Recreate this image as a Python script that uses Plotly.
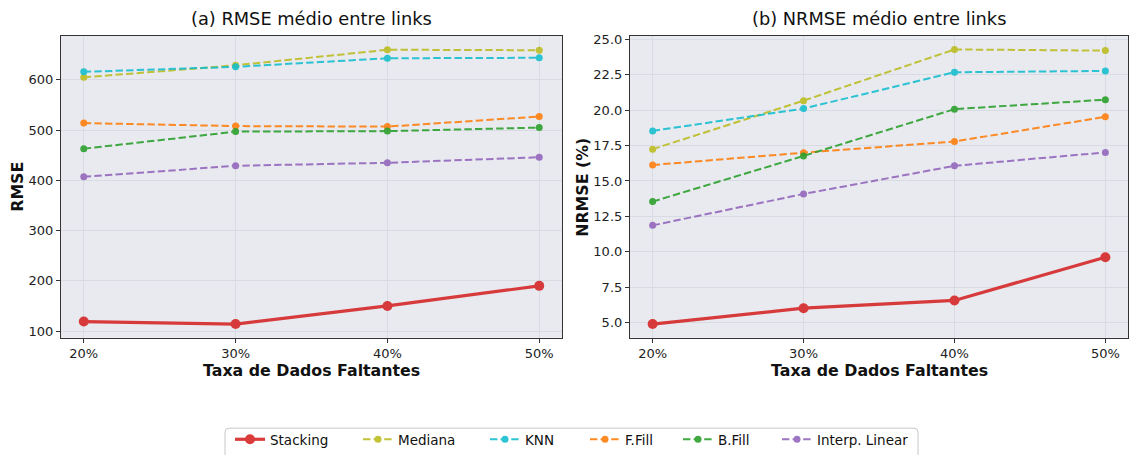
import plotly.graph_objects as go

categories = ["20%", "30%", "40%", "50%"]
series_names = ["Stacking", "Mediana", "KNN", "F.Fill", "B.Fill", "Interp. Linear"]
colors = ["#d62728", "#bcbd22", "#17becf", "#ff7f0e", "#2ca02c", "#9467bd"]

rmse = {
    "Stacking": [119, 114, 150, 190],
    "Mediana": [605, 629, 660, 659],
    "KNN": [616, 626, 643, 644],
    "F.Fill": [514, 508, 507, 527],
    "B.Fill": [463, 497, 498, 505],
    "Interp. Linear": [407, 429, 435, 446],
}
nrmse = {
    "Stacking": [4.88, 6.0, 6.55, 9.6],
    "Mediana": [17.25, 20.68, 24.3, 24.22],
    "KNN": [18.54, 20.12, 22.69, 22.78],
    "F.Fill": [16.13, 17.0, 17.79, 19.54],
    "B.Fill": [13.54, 16.77, 20.08, 20.75],
    "Interp. Linear": [11.86, 14.08, 16.07, 17.02],
}

W, H = 1129, 455
FONT = "DejaVu Sans"
fig = go.Figure()

legend_ids = ["legend", "legend2", "legend3", "legend4", "legend5", "legend6"]
legend_item_x = [230, 358, 485, 585, 678, 777]  # px, left of each legend entry

xs = list(range(len(categories)))
for i, (name, col) in enumerate(zip(series_names, colors)):
    main = name == "Stacking"
    line = dict(color=col, width=3.2 if main else 2, dash="solid" if main else "7.4px,3.2px")
    marker = dict(color=col, size=10 if main else 7)
    fig.add_trace(go.Scatter(x=xs, y=rmse[name], mode="lines+markers", name=name,
                             line=line, marker=marker, opacity=0.9,
                             xaxis="x", yaxis="y", legendgroup=name, legend=legend_ids[i]))
    fig.add_trace(go.Scatter(x=xs, y=nrmse[name], mode="lines+markers", name=name,
                             line=line, marker=marker, opacity=0.9,
                             xaxis="x2", yaxis="y2", legendgroup=name, showlegend=False))

ydom = [1 - 340 / H, 1 - 36 / H]
axis_common = dict(
    showgrid=True, gridcolor="#d8dbe2", gridwidth=1,
    showline=True, linecolor="#333333", linewidth=1.2, mirror=True,
    ticks="outside", ticklen=4, tickcolor="#333333",
    tickfont=dict(family=FONT, size=13, color="#222"),
    zeroline=False, automargin=False,
)

legend_common = dict(orientation="h", xanchor="left", yanchor="middle",
                     y=1 - 442.5 / H, bgcolor="rgba(0,0,0,0)", borderwidth=0,
                     font=dict(family=FONT, size=13.5, color="#111"))
legends = {}
for lid, px in zip(legend_ids, legend_item_x):
    legends[lid] = dict(x=px / W, **legend_common)


def ann(text, x, y, size, bold=False, angle=0):
    return dict(text=f"<b>{text}</b>" if bold else text, x=x / W, y=1 - y / H,
                xref="paper", yref="paper", showarrow=False, xanchor="center",
                yanchor="middle", textangle=angle,
                font=dict(family=FONT, size=size, color="#111"))


# rounded legend frame (partly cut by the bottom edge, as in the reference)
x0, x1, y0, y1, r = 225 / W, 918 / W, 1 - 431 / H, -0.05, 4
rx, ry = r / W, r / H
frame_path = (f"M{x0 + rx},{y0} L{x1 - rx},{y0} Q{x1},{y0} {x1},{y0 - ry} "
              f"L{x1},{y1} L{x0},{y1} L{x0},{y0 - ry} Q{x0},{y0} {x0 + rx},{y0} Z")

fig.update_layout(
    width=W, height=H,
    margin=dict(l=0, r=0, t=0, b=0),
    paper_bgcolor="white",
    plot_bgcolor="#e8eaf0",
    font=dict(family=FONT, color="#111"),
    showlegend=True,
    xaxis=dict(domain=[61 / W, 562 / W], range=[-0.15, 3.15], tickmode="array",
               tickvals=xs, ticktext=categories, anchor="y", **axis_common),
    yaxis=dict(domain=ydom, range=[86.7, 687.8], tickvals=[100, 200, 300, 400, 500, 600],
               anchor="x", **axis_common),
    xaxis2=dict(domain=[630 / W, 1128 / W], range=[-0.15, 3.15], tickmode="array",
                tickvals=xs, ticktext=categories, anchor="y2", **axis_common),
    yaxis2=dict(domain=ydom, range=[3.91, 25.27],
                tickvals=[5, 7.5, 10, 12.5, 15, 17.5, 20, 22.5, 25],
                ticktext=["5.0", "7.5", "10.0", "12.5", "15.0", "17.5", "20.0", "22.5", "25.0"],
                anchor="x2", **axis_common),
    shapes=[dict(type="path", path=frame_path, xref="paper", yref="paper",
                 line=dict(color="#c8c8c8", width=1), fillcolor="white", layer="below")],
    annotations=[
        ann("(a) RMSE médio entre links", (61 + 562) / 2, 19, 17.8),
        ann("(b) NRMSE médio entre links", (630 + 1128) / 2, 19, 17.8),
        ann("Taxa de Dados Faltantes", (61 + 562) / 2, 373, 15.8, bold=True),
        ann("Taxa de Dados Faltantes", (630 + 1128) / 2, 373, 15.8, bold=True),
        ann("RMSE", 18, 188, 15.8, bold=True, angle=-90),
        ann("NRMSE (%)", 583, 188, 15.8, bold=True, angle=-90),
    ],
    **legends,
)

fig.write_html("out.html", config={"displayModeBar": False},
               post_script="document.body.style.margin='0';")
